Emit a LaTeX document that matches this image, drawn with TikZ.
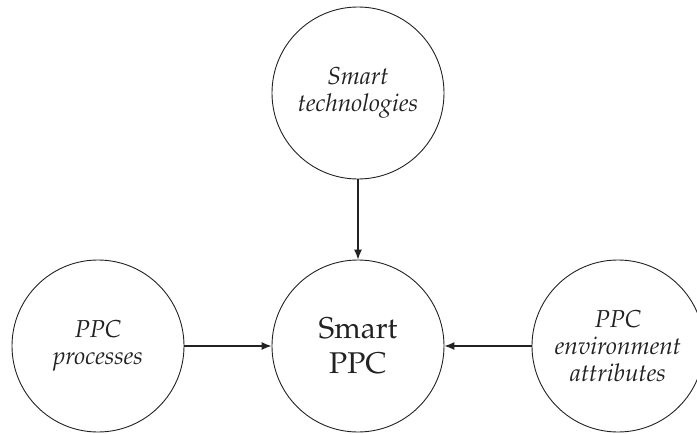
\documentclass[tikz,border=0pt]{standalone}
\usepackage[T1]{fontenc}
\usepackage{mathpazo}
\usetikzlibrary{arrows.meta}
\definecolor{ink}{HTML}{222222}
\begin{document}
\begin{tikzpicture}[x=1pt,y=-1pt,
  bubble/.style={circle,draw=ink,line width=0.9pt,minimum size=172pt,inner sep=0pt,align=center,text=ink},
  lbl/.style={font=\fontsize{24.5}{27}\selectfont\itshape},
  big/.style={font=\fontsize{30}{35}\selectfont},
  link/.style={draw=ink,line width=1.2pt,-{Latex[length=10pt,width=8pt]}}]
\useasboundingbox (0,0) rectangle (697,434);
\clip (0,0) rectangle (697,434);
\node[bubble,lbl] (tech) at (358,93) {Smart\\technologies};
\node[bubble,big] (ppc) at (358,346) {Smart\\PPC};
\node[bubble,lbl] (proc) at (98,346) {PPC\\processes};
\node[bubble,lbl] (env) at (618,346) {PPC\\environment\\attributes};
\draw[link] (tech) -- (ppc);
\draw[link] (proc) -- (ppc);
\draw[link] (env) -- (ppc);
\end{tikzpicture}
\end{document}
